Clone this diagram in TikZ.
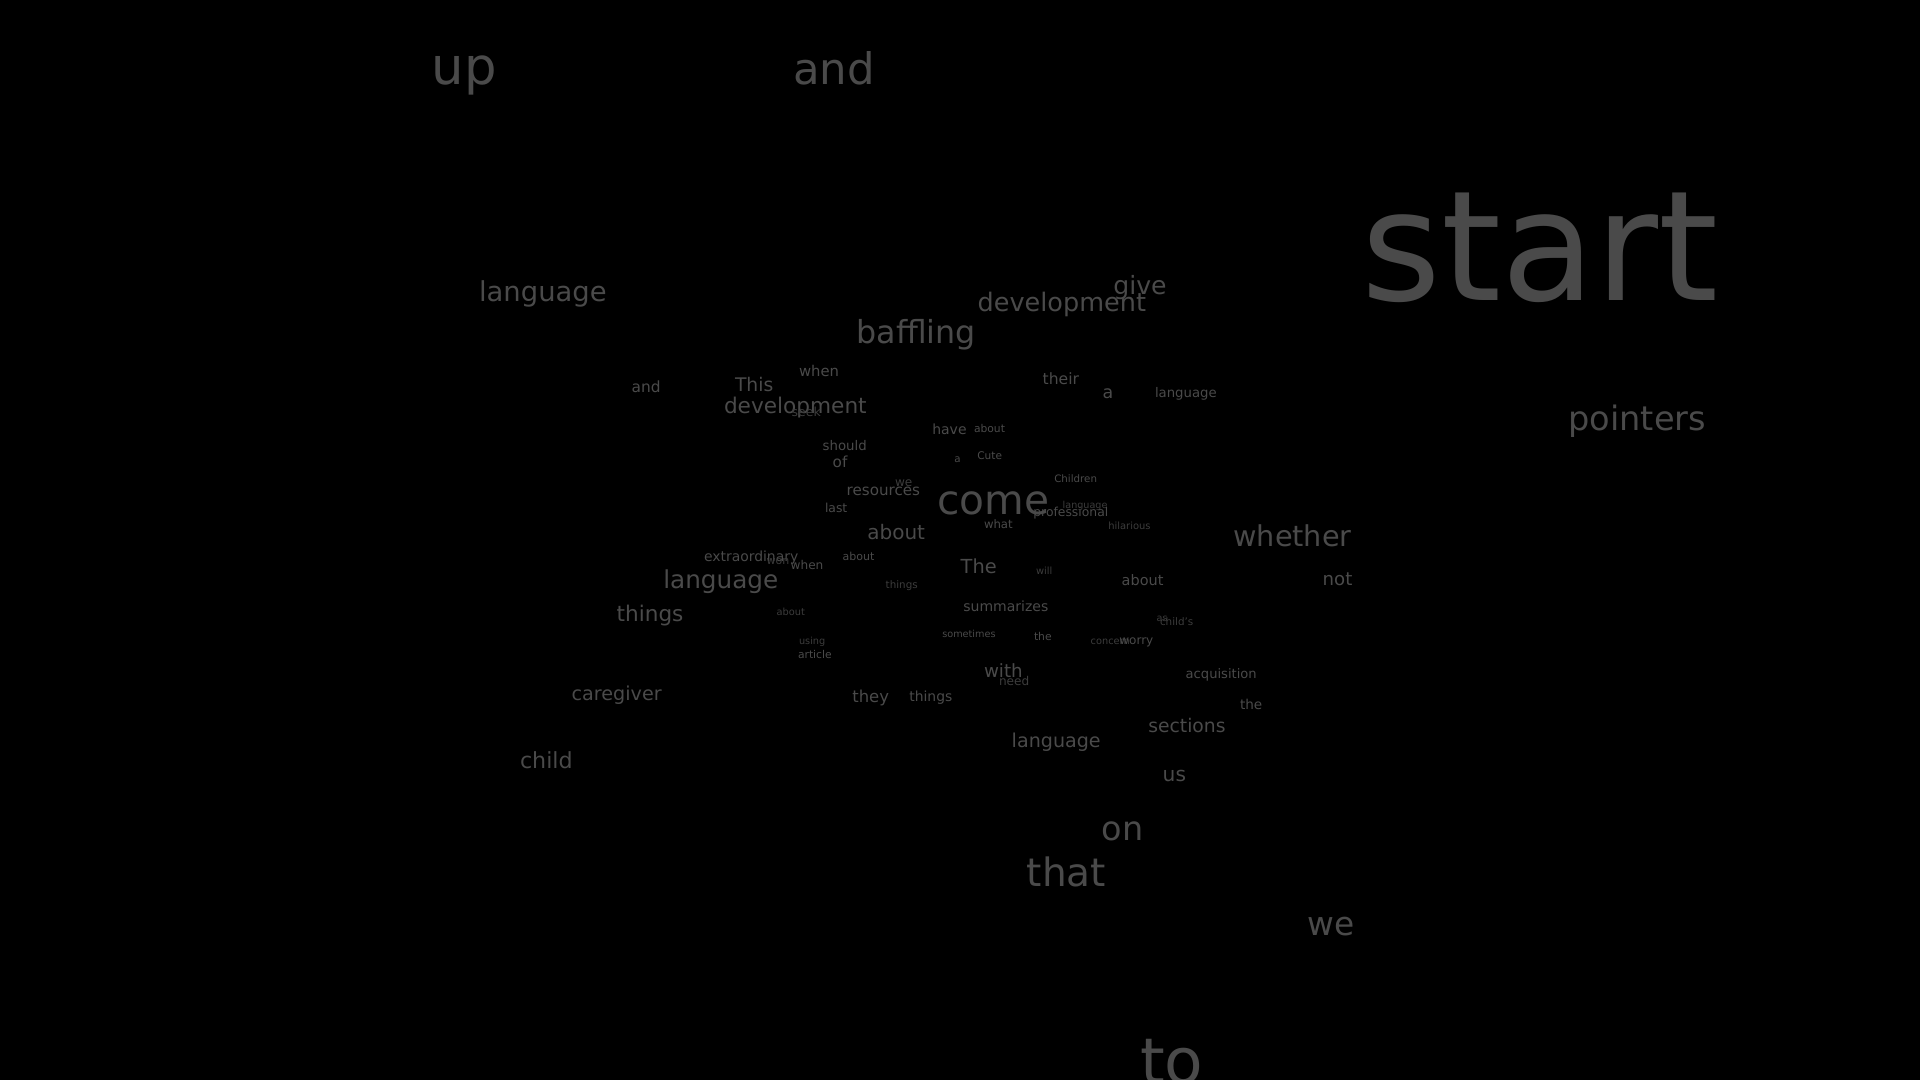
\documentclass[tikz,border=0pt]{standalone}
\usepackage{fontspec}
\setmainfont{DejaVu Sans}
\usepackage{graphicx}
\newdimen\pxu \pxu=0.5pt
\definecolor{wbase}{HTML}{4A4A4A}
\definecolor{wdim}{HTML}{3C3C3C}
\definecolor{wbg}{HTML}{000000}
\tikzset{
  word/.style={anchor=base west, inner sep=0pt, outer sep=0pt, text=wbase},
  dimword/.style={word, text=wdim}
}
\newcommand{\wc}[5]{\node[#1] (#2) at (#3) {\resizebox{#4\pxu}{!}{#5}};}
\begin{document}
\begin{tikzpicture}[x=0.5pt, y=-0.5pt]
\fill[wbg] (0,0) rectangle (1920,1080);
\useasboundingbox (0,0) rectangle (1920,1080);
\wc{word}{up}{431.7,85}{65}{up}
\wc{word}{andA}{793.3,85}{81.7}{and}
\wc{word}{start}{1361.7,300}{356.7}{start}
\wc{word}{langA}{479,301.7}{127.7}{language}
\wc{word}{give}{1113.3,295}{53.3}{give}
\wc{word}{devA}{977.7,311.7}{168.3}{development}
\wc{word}{baffling}{856.7,343.3}{119.3}{baffling}
\wc{word}{whenA}{799,376.7}{40}{when}
\wc{word}{their}{1042.7,384}{36.3}{their}
\wc{word}{aA}{1102.7,398.3}{10.7}{a}
\wc{word}{langB}{1155,397.7}{61.7}{language}
\wc{word}{pointers}{1568.3,430}{137.7}{pointers}
\wc{word}{andB}{631.7,392.7}{29}{and}
\wc{word}{This}{735,391.7}{38.3}{This}
\wc{word}{devB}{724,413.3}{142.7}{development}
\wc{dimword}{seek}{791.7,416.7}{29}{seek}
\wc{word}{have}{932.3,434}{34.3}{have}
\wc{word}{aboutA}{974,432.7}{31}{about}
\wc{word}{should}{822.7,451}{44}{should}
\wc{word}{of}{832.7,467.3}{14.7}{of}
\wc{word}{aB}{954.3,462.3}{6.3}{a}
\wc{word}{Cute}{977.3,459}{24.7}{Cute}
\wc{dimword}{weA}{895,486.7}{17.3}{we}
\wc{word}{resources}{846.7,495.7}{73.3}{resources}
\wc{word}{Children}{1054.3,482.7}{42.7}{Children}
\wc{word}{come}{937.3,514}{112}{come}
\wc{dimword}{langC}{1062.7,508.3}{44.7}{language}
\wc{word}{professional}{1033.3,516.7}{75}{professional}
\wc{word}{last}{825,512.3}{22.3}{last}
\wc{word}{what}{984,528.3}{28.7}{what}
\wc{dimword}{hilarious}{1108.3,529}{42.3}{hilarious}
\wc{word}{aboutB}{867.3,539}{57.7}{about}
\wc{word}{whether}{1233.3,546.7}{118.3}{whether}
\wc{word}{extraordinary}{704,561.7}{94.3}{extraordinary}
\wc{dimword}{won}{766.7,564}{22.7}{won}
\wc{word}{whenB}{790.7,569.3}{32.7}{when}
\wc{word}{aboutC}{842.7,560}{31.7}{about}
\wc{word}{The}{960.7,573.3}{36}{The}
\wc{dimword}{will}{1036,574.3}{16.3}{will}
\wc{word}{aboutD}{1121.7,585.7}{41.7}{about}
\wc{word}{not}{1322.7,585.7}{29.7}{not}
\wc{word}{langD}{663.3,588.3}{115}{language}
\wc{dimword}{thingsA}{885.7,588.3}{32}{things}
\wc{word}{thingsB}{616.7,621.7}{66.7}{things}
\wc{dimword}{aboutE}{776.7,615}{28.3}{about}
\wc{word}{summarizes}{963.3,611}{85}{summarizes}
\wc{dimword}{as}{1156.7,621.7}{11}{as}
\wc{dimword}{childs}{1160,625.7}{33.3}{child's}
\wc{dimword}{using}{799,644}{26.3}{using}
\wc{word}{sometimes}{942.3,637.3}{53.3}{sometimes}
\wc{word}{theA}{1034,640}{17.7}{the}
\wc{dimword}{concern}{1090.7,644}{39}{concern}
\wc{word}{worry}{1119.3,644}{34}{worry}
\wc{word}{article}{798,658.3}{33.7}{article}
\wc{word}{with}{984,677.3}{38.7}{with}
\wc{dimword}{need}{999,685}{30.3}{need}
\wc{word}{acquisition}{1185.7,678.3}{71}{acquisition}
\wc{word}{caregiver}{571.7,700}{90}{caregiver}
\wc{word}{they}{852.3,702.3}{36.7}{they}
\wc{word}{thingsC}{909.3,701}{43}{things}
\wc{word}{theB}{1240,709}{22.3}{the}
\wc{word}{sections}{1148.3,732.7}{77.3}{sections}
\wc{word}{langE}{1011.7,747.3}{89}{language}
\wc{word}{child}{520,768.3}{52.7}{child}
\wc{word}{us}{1162.7,781.7}{23.3}{us}
\wc{word}{on}{1101.7,840}{41.7}{on}
\wc{word}{that}{1026.7,886.7}{79.3}{that}
\wc{word}{weB}{1307.3,935}{47}{we}
\wc{word}{to}{1140,1083}{63.3}{to}
\end{tikzpicture}
\end{document}
